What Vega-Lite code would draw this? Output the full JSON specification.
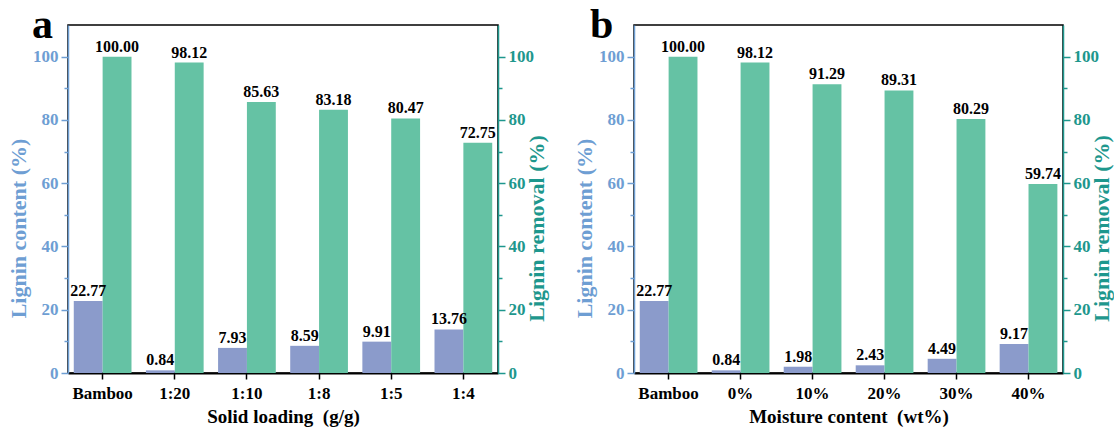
{
  "$schema": "https://vega.github.io/schema/vega-lite/v6.json",
  "background": "white",
  "padding": {"left": 6, "top": 3, "right": 0, "bottom": 1},
  "datasets": {
    "lignin": [
      {"panel": "a", "cat": "Bamboo", "series": "content", "value": 22.77},
      {"panel": "a", "cat": "Bamboo", "series": "removal", "value": 100.00},
      {"panel": "a", "cat": "1:20", "series": "content", "value": 0.84},
      {"panel": "a", "cat": "1:20", "series": "removal", "value": 98.12},
      {"panel": "a", "cat": "1:10", "series": "content", "value": 7.93},
      {"panel": "a", "cat": "1:10", "series": "removal", "value": 85.63},
      {"panel": "a", "cat": "1:8", "series": "content", "value": 8.59},
      {"panel": "a", "cat": "1:8", "series": "removal", "value": 83.18},
      {"panel": "a", "cat": "1:5", "series": "content", "value": 9.91},
      {"panel": "a", "cat": "1:5", "series": "removal", "value": 80.47},
      {"panel": "a", "cat": "1:4", "series": "content", "value": 13.76},
      {"panel": "a", "cat": "1:4", "series": "removal", "value": 72.75},
      {"panel": "b", "cat": "Bamboo", "series": "content", "value": 22.77},
      {"panel": "b", "cat": "Bamboo", "series": "removal", "value": 100.00},
      {"panel": "b", "cat": "0%", "series": "content", "value": 0.84},
      {"panel": "b", "cat": "0%", "series": "removal", "value": 98.12},
      {"panel": "b", "cat": "10%", "series": "content", "value": 1.98},
      {"panel": "b", "cat": "10%", "series": "removal", "value": 91.29},
      {"panel": "b", "cat": "20%", "series": "content", "value": 2.43},
      {"panel": "b", "cat": "20%", "series": "removal", "value": 89.31},
      {"panel": "b", "cat": "30%", "series": "content", "value": 4.49},
      {"panel": "b", "cat": "30%", "series": "removal", "value": 80.29},
      {"panel": "b", "cat": "40%", "series": "content", "value": 9.17},
      {"panel": "b", "cat": "40%", "series": "removal", "value": 59.74}
    ]
  },
  "data": {"name": "lignin"},
  "spacing": 136,
  "bounds": "flush",
  "hconcat": [
    {
      "width": 430,
      "height": 348,
      "title": {"text": "a", "anchor": "start", "frame": "group", "dx": -36, "dy": 55, "baseline": "alphabetic", "offset": 0, "fontSize": 42},
      "transform": [{"filter": "datum.panel === 'a'"}],
      "encoding": {
        "x": {"field": "cat", "type": "nominal", "sort": null, "title": "Solid loading\u00a0 (g/g)",
              "scale": {"paddingInner": 0.2, "paddingOuter": 0.08}},
        "xOffset": {"field": "series", "type": "nominal", "scale": {"domain": ["content", "removal"], "paddingInner": 0, "paddingOuter": 0}}
      },
      "layer": [
        {
          "transform": [{"filter": "datum.series === 'content'"}],
          "mark": {"type": "bar", "color": "#8B9BCB"},
          "encoding": {
            "y": {"field": "value", "type": "quantitative", "title": "Lignin content (%)",
                  "scale": {"domain": [0, 110], "nice": false},
                  "axis": {"orient": "left", "domainColor": "#6E9ED3", "tickColor": "#6E9ED3", "labelColor": "#6E9ED3", "titleColor": "#6E9ED3",
                           "titlePadding": 2, "titleY": 203,
                           "values": [0, 10, 20, 30, 40, 50, 60, 70, 80, 90, 100],
                           "labelExpr": "datum.value % 20 === 0 ? datum.label : ''",
                           "tickSize": {"condition": {"test": "datum.value % 20 === 0", "value": 7}, "value": 4}}}
          }
        },
        {
          "transform": [{"filter": "datum.series === 'removal'"}],
          "mark": {"type": "bar", "color": "#65C2A4"},
          "encoding": {
            "y": {"field": "value", "type": "quantitative", "title": "Lignin removal (%)",
                  "scale": {"domain": [0, 110], "nice": false},
                  "axis": {"orient": "right", "domainColor": "#1E978D", "tickColor": "#1E978D", "labelColor": "#1E978D", "titleColor": "#1E978D",
                           "titleAngle": 270, "titleBaseline": "top", "titlePadding": -7, "titleY": 203,
                           "values": [0, 10, 20, 30, 40, 50, 60, 70, 80, 90, 100],
                           "labelExpr": "datum.value % 20 === 0 ? datum.label : ''",
                           "tickSize": {"condition": {"test": "datum.value % 20 === 0", "value": 7}, "value": 4}}}
          }
        },
        {
          "mark": {"type": "text", "baseline": "bottom", "dy": -2, "fontSize": 16, "fontWeight": "bold", "color": "black"},
          "encoding": {
            "y": {"field": "value", "type": "quantitative", "scale": {"domain": [0, 110], "nice": false}, "axis": null},
            "text": {"field": "value", "type": "quantitative", "format": ".2f"}
          }
        }
      ],
      "resolve": {"scale": {"y": "independent"}}
    },
    {
      "width": 429,
      "height": 348,
      "title": {"text": "b", "anchor": "start", "frame": "group", "dx": -44, "dy": 55, "baseline": "alphabetic", "offset": 0, "fontSize": 42},
      "transform": [{"filter": "datum.panel === 'b'"}],
      "encoding": {
        "x": {"field": "cat", "type": "nominal", "sort": null, "title": "Moisture content\u00a0 (wt%)",
              "scale": {"paddingInner": 0.2, "paddingOuter": 0.08}},
        "xOffset": {"field": "series", "type": "nominal", "scale": {"domain": ["content", "removal"], "paddingInner": 0, "paddingOuter": 0}}
      },
      "layer": [
        {
          "transform": [{"filter": "datum.series === 'content'"}],
          "mark": {"type": "bar", "color": "#8B9BCB"},
          "encoding": {
            "y": {"field": "value", "type": "quantitative", "title": "Lignin content (%)",
                  "scale": {"domain": [0, 110], "nice": false},
                  "axis": {"orient": "left", "domainColor": "#6E9ED3", "tickColor": "#6E9ED3", "labelColor": "#6E9ED3", "titleColor": "#6E9ED3",
                           "titlePadding": 2, "titleY": 203,
                           "values": [0, 10, 20, 30, 40, 50, 60, 70, 80, 90, 100],
                           "labelExpr": "datum.value % 20 === 0 ? datum.label : ''",
                           "tickSize": {"condition": {"test": "datum.value % 20 === 0", "value": 7}, "value": 4}}}
          }
        },
        {
          "transform": [{"filter": "datum.series === 'removal'"}],
          "mark": {"type": "bar", "color": "#65C2A4"},
          "encoding": {
            "y": {"field": "value", "type": "quantitative", "title": "Lignin removal (%)",
                  "scale": {"domain": [0, 110], "nice": false},
                  "axis": {"orient": "right", "domainColor": "#1E978D", "tickColor": "#1E978D", "labelColor": "#1E978D", "titleColor": "#1E978D",
                           "titleAngle": 270, "titleBaseline": "top", "titlePadding": -7, "titleY": 203,
                           "values": [0, 10, 20, 30, 40, 50, 60, 70, 80, 90, 100],
                           "labelExpr": "datum.value % 20 === 0 ? datum.label : ''",
                           "tickSize": {"condition": {"test": "datum.value % 20 === 0", "value": 7}, "value": 4}}}
          }
        },
        {
          "mark": {"type": "text", "baseline": "bottom", "dy": -2, "fontSize": 16, "fontWeight": "bold", "color": "black"},
          "encoding": {
            "y": {"field": "value", "type": "quantitative", "scale": {"domain": [0, 110], "nice": false}, "axis": null},
            "text": {"field": "value", "type": "quantitative", "format": ".2f"}
          }
        }
      ],
      "resolve": {"scale": {"y": "independent"}}
    }
  ],
  "config": {
    "font": "Liberation Serif",
    "view": {"stroke": "black", "strokeWidth": 1.5},
    "title": {"font": "Liberation Serif", "fontWeight": "bold", "color": "black"},
    "text": {"font": "Liberation Serif"},
    "axis": {
      "grid": false,
      "labelFont": "Liberation Serif",
      "labelFontWeight": "bold",
      "labelFontSize": 17,
      "titleFont": "Liberation Serif",
      "titleFontWeight": "bold",
      "titleFontSize": 22,
      "domainWidth": 1.5,
      "tickWidth": 1.5,
      "labelPadding": 3
    },
    "axisX": {
      "domainColor": "black",
      "domainWidth": 2,
      "tickColor": "black",
      "tickSize": 6,
      "labelAngle": 0,
      "labelColor": "black",
      "labelFontSize": 17,
      "labelPadding": 6,
      "titleColor": "black",
      "titleFontSize": 19,
      "titlePadding": 6
    }
  }
}
